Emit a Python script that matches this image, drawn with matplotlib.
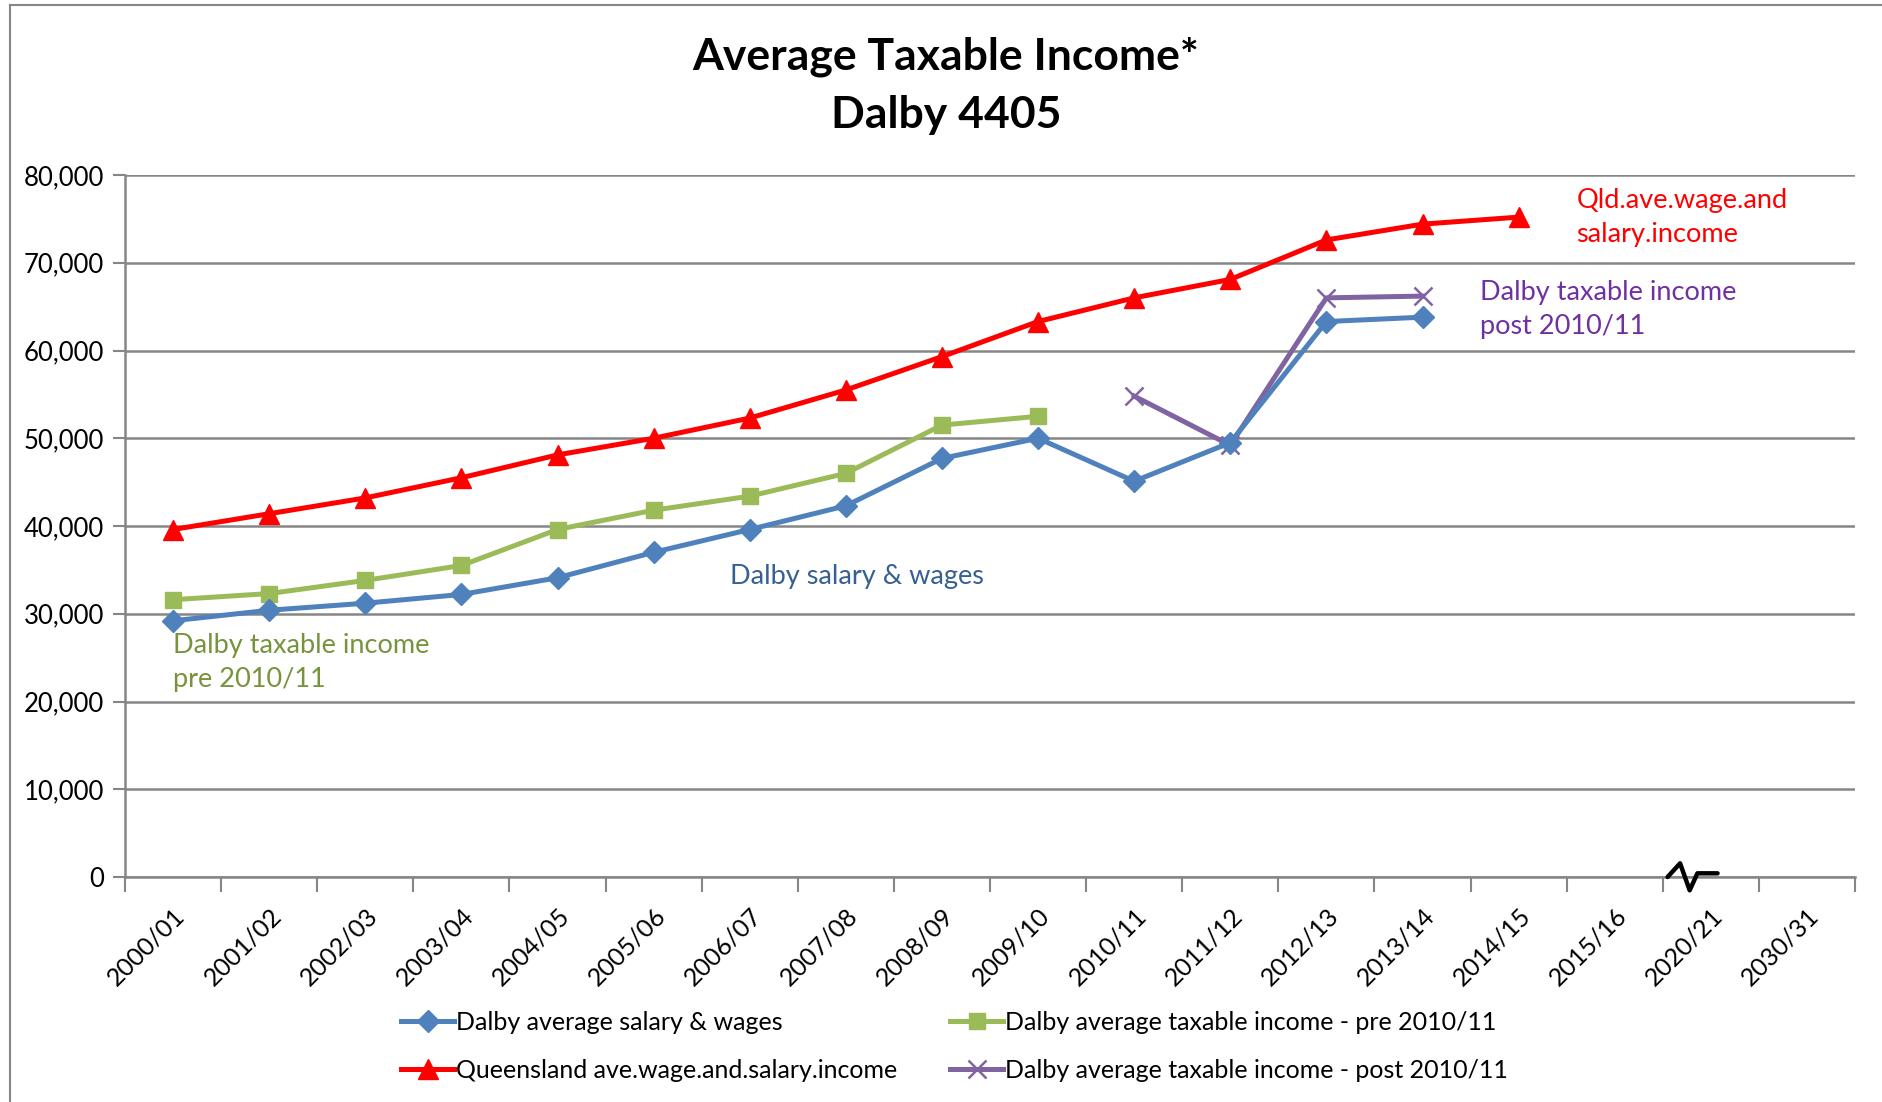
import numpy as np
import matplotlib
matplotlib.use('Agg')
import matplotlib.pyplot as plt
from matplotlib.lines import Line2D

plt.rcParams['font.family'] = ['Lato', 'DejaVu Sans']

# Data
years = ['2000/01', '2001/02', '2002/03', '2003/04', '2004/05', '2005/06',
         '2006/07', '2007/08', '2008/09', '2009/10', '2010/11', '2011/12',
         '2012/13', '2013/14', '2014/15', '2015/16', '2020/21', '2030/31']
salary_wages = [29200, 30400, 31200, 32200, 34100, 37000, 39600, 42300, 47700,
                50000, 45100, 49500, 63300, 63800]
taxable_pre = [31600, 32300, 33800, 35500, 39600, 41800, 43400, 46000, 51500, 52500]
qld_wage = [39600, 41400, 43200, 45500, 48100, 50000, 52300, 55500, 59300,
            63300, 66000, 68100, 72600, 74400, 75200]
taxable_post = [None] * 10 + [54800, 49200, 66000, 66200]
yticks = [0, 10000, 20000, 30000, 40000, 50000, 60000, 70000, 80000]

W, H = 1883, 1102
fig = plt.figure(figsize=(W / 100, H / 100), dpi=100)
ax = fig.add_axes([125 / W, 1 - 877 / H, (1855 - 125) / W, (877 - 175) / H])

x = np.arange(len(years))
post = np.array([np.nan if v is None else v for v in taxable_post], dtype=float)

l_blue, = ax.plot(x[:len(salary_wages)], salary_wages, color='#4F81BD', lw=3.6,
                  marker='D', ms=11, label='Dalby average salary & wages', zorder=4)
l_green, = ax.plot(x[:len(taxable_pre)], taxable_pre, color='#9BBB59', lw=3.6,
                   marker='s', ms=11, label='Dalby average taxable income - pre 2010/11', zorder=3)
l_red, = ax.plot(x[:len(qld_wage)], qld_wage, color='#FF0000', lw=3.6,
                 marker='^', ms=15, label='Queensland ave.wage.and.salary.income', zorder=5)
l_purple, = ax.plot(x[:len(post)], post, color='#8064A2', lw=3.6,
                    marker='x', ms=13, mew=1.8, label='Dalby average taxable income - post 2010/11', zorder=3)

ax.set_xlim(-0.5, len(years) - 0.5)
ax.set_ylim(0, 80000)
ax.set_yticks(yticks)
ax.set_yticklabels(['{:,}'.format(v) for v in yticks], fontsize=18.5)
ax.yaxis.grid(True, color='#868686', lw=1.8)
ax.set_axisbelow(True)

ax.set_xticks(np.arange(len(years) + 1) - 0.5)
ax.set_xticklabels([])
ax.set_xticks(x, minor=True)
ax.set_xticklabels(years, minor=True, rotation=45, ha='right', rotation_mode='anchor', fontsize=18)
ax.tick_params(axis='x', which='minor', length=0, pad=19)
ax.tick_params(axis='x', which='major', length=11, width=1.5, color='#868686', direction='out')
ax.tick_params(axis='y', length=9, width=1.5, color='#868686', pad=6)

for s in ['top', 'right']:
    ax.spines[s].set_visible(False)
for s in ['left', 'bottom']:
    ax.spines[s].set_color('#868686')
    ax.spines[s].set_linewidth(1.8)

# axis break squiggle near 2020/21
ax.plot([15.55, 15.68, 15.78, 15.86, 16.07],
        [0, 1560, -1520, 420, 420], color='black', lw=3.2,
        clip_on=False, zorder=6, solid_capstyle='round', solid_joinstyle='round')

# in-chart labels
ax.text(14.6, 78500, 'Qld.ave.wage.and\nsalary.income', color='#FF0000',
        fontsize=19.5, va='top', linespacing=1.45)
ax.text(13.6, 68000, 'Dalby taxable income\npost 2010/11', color='#7030A0',
        fontsize=19.5, va='top', linespacing=1.45)
ax.text(5.8, 35700, 'Dalby salary & wages', color='#376092', fontsize=19.5, va='top')
ax.text(0.0, 27800, 'Dalby taxable income\npre 2010/11', color='#77933C',
        fontsize=19.5, va='top', linespacing=1.45)

# title
fig.text(946 / W, 1 - 57 / H, 'Average Taxable Income*', ha='center', va='center',
         fontsize=32, fontweight='bold')
fig.text(946 / W, 1 - 115 / H, 'Dalby 4405', ha='center', va='center',
         fontsize=32, fontweight='bold')

fig.legend([l_blue, l_red, l_green, l_purple],
           [l_blue.get_label(), l_red.get_label(), l_green.get_label(), l_purple.get_label()],
           ncol=2, frameon=False, fontsize=18, loc='center left',
           bbox_to_anchor=(379 / W, 1 - 1046 / H), handlelength=2.1,
           handletextpad=0.1, columnspacing=2.1, labelspacing=1.0)

# chart border lines (cropped chart frame)
fig.add_artist(Line2D([10 / W, 10 / W], [0, 1 - 5 / H], transform=fig.transFigure,
                      color='#868686', lw=1.5))
fig.add_artist(Line2D([10 / W, 1], [1 - 5 / H, 1 - 5 / H], transform=fig.transFigure,
                      color='#868686', lw=1.5))

fig.savefig('out.png', dpi=100)
